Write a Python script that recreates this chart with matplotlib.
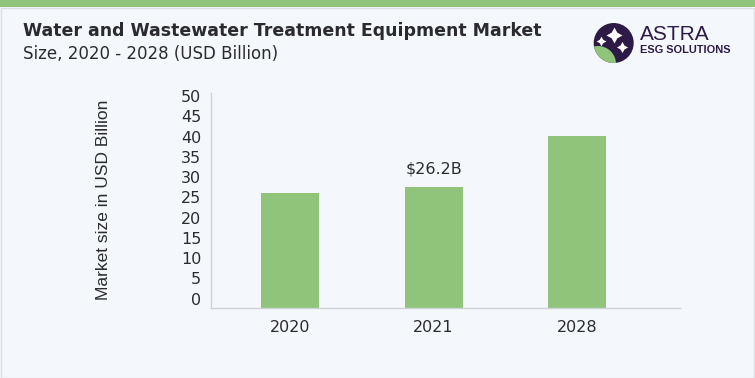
import matplotlib
matplotlib.use("Agg")
import matplotlib.pyplot as plt
from matplotlib.patches import Circle, Rectangle

# data
years = ["2020", "2021", "2028"]
market_size = [28.2, 29.8, 42.5]
y_ticks = [0, 5, 10, 15, 20, 25, 30, 35, 40, 45, 50]
callout_year = "2021"
callout_text = "$26.2B"

title = "Water and Wastewater Treatment Equipment Market"
subtitle = "Size, 2020 - 2028 (USD Billion)"
y_label = "Market size in USD Billion"

BG = "#f4f8fc"
GREEN = "#8fc47a"
TEXT = "#2b2a33"
PURPLE = "#2e1a47"
FONT = "DejaVu Sans"

W, H = 755, 378
fig = plt.figure(figsize=(W / 100, H / 100), dpi=100)
fig.patch.set_facecolor(BG)


def px(x, y):
    """pixel coords (top-left origin) -> figure fraction"""
    return x / W, 1 - y / H


# top band and thin frame
fig.add_artist(Rectangle((0, 1 - 7 / H), 1, 7 / H, transform=fig.transFigure,
                         facecolor=GREEN, edgecolor="none"))
fig.add_artist(Rectangle((0.5 / W, 0.5 / H), 1 - 1.5 / W, 1 - 8 / H,
                         transform=fig.transFigure, facecolor="none",
                         edgecolor="#dcdfe3", linewidth=1))

# titles
fig.text(*px(23, 31), title, fontsize=12.5, fontweight="heavy", color=TEXT,
         family=FONT, va="center", ha="left")
fig.text(*px(23, 54), subtitle, fontsize=12, color=TEXT, family=FONT,
         va="center", ha="left")

# logo
logo = fig.add_axes([590 / W, 1 - 66 / H, 48 / W, 48 / H])
logo.set_xlim(590, 638)
logo.set_ylim(66, 18)
logo.set_aspect("equal")
logo.axis("off")
disc = Circle((613.7, 43), 20, facecolor=PURPLE, edgecolor="none")
logo.add_patch(disc)
hill = Circle((598, 64), 18, facecolor=GREEN, edgecolor="none")
logo.add_patch(hill)
hill.set_clip_path(disc)
for sx, sy, ss in [(614, 35, 11.5), (600.5, 40.5, 7), (621.5, 46.5, 8)]:
    logo.plot(sx, sy, marker=(4, 1, 0), color="white", markersize=ss,
              markeredgewidth=0)
fig.text(*px(640, 35), "ASTRA", fontsize=15, color=PURPLE,
         family="Liberation Sans", va="center", ha="left")
fig.text(*px(640, 50), "ESG SOLUTIONS", fontsize=7.9, fontweight="bold",
         color=PURPLE, family="Liberation Sans", va="center", ha="left")

# chart
ax = fig.add_axes([211 / W, 1 - 307.7 / H, (680 - 211) / W, (307.7 - 93) / H])
ax.set_facecolor(BG)
xs = range(len(years))
ax.bar(xs, market_size, width=0.405, color=GREEN, zorder=2)
ax.set_xlim(-0.553, 2.72)
ax.set_ylim(0, 53)
ax.set_xticks(list(xs))
ax.set_xticklabels(years, fontsize=11.5, color=TEXT, family=FONT)
ax.set_yticks(y_ticks)
ax.set_yticklabels([str(t) for t in y_ticks], fontsize=11.5, color=TEXT,
                   family=FONT, va="bottom")
ax.tick_params(axis="both", length=0)
ax.tick_params(axis="y", pad=7)
ax.tick_params(axis="x", pad=9)
for side in ["top", "right"]:
    ax.spines[side].set_visible(False)
for side in ["left", "bottom"]:
    ax.spines[side].set_color("#cfd3d8")
    ax.spines[side].set_linewidth(1)

i = years.index(callout_year)
ax.text(i, market_size[i] + 4.5, callout_text, ha="center", va="center",
        fontsize=11.5, color=TEXT, family=FONT)

fig.text(*px(103, 200), y_label, rotation=90, fontsize=12.5, color=TEXT,
         family="Liberation Sans", va="center", ha="center")

fig.savefig("out.png", dpi=100, facecolor=BG)
